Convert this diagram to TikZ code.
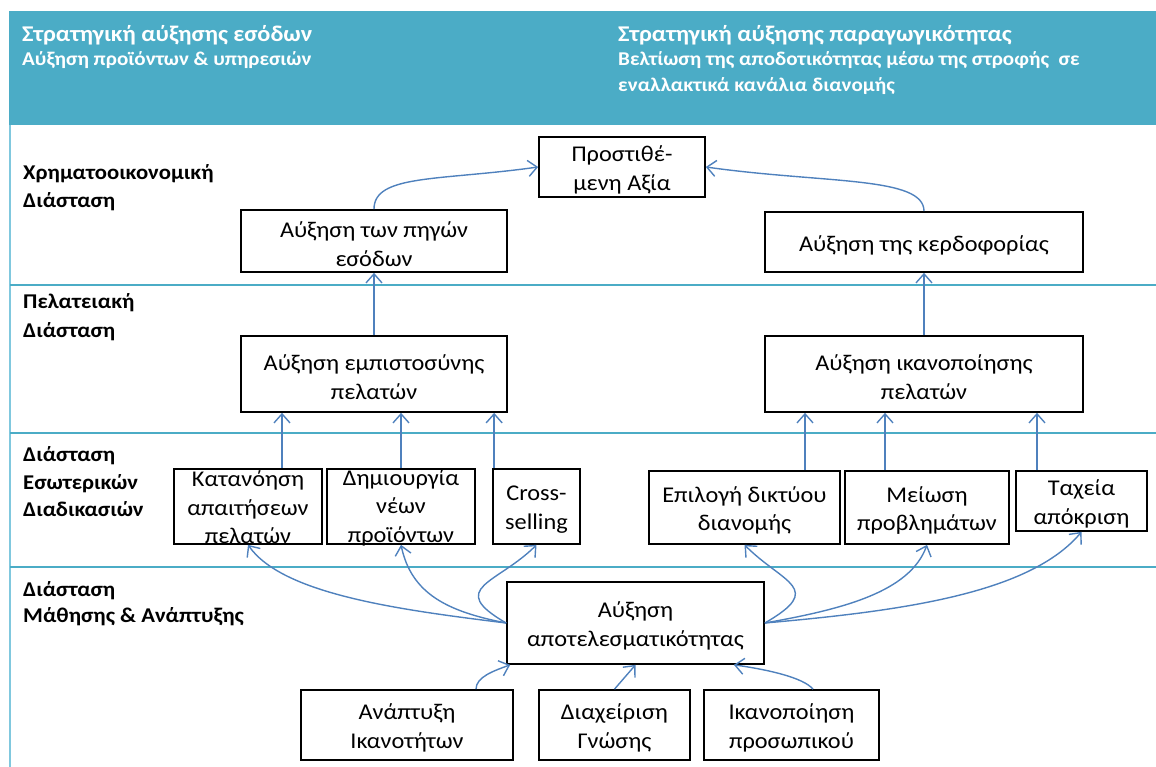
\documentclass[tikz,border=0pt]{standalone}
\usepackage{fontspec}
\setmainfont{Carlito}[FakeStretch=1.08]
\usetikzlibrary{arrows.meta}
\definecolor{band}{RGB}{75,172,198}
\definecolor{edgeline}{RGB}{128,200,222}
\definecolor{conn}{RGB}{79,129,189}
% a framed box with its caption set on top of it, so that the caption may overflow the frame;
% the optional argument moves the caption up or down inside the frame
\newcommand\kpibox[6][-3pt]{%
  \node[frame,minimum width=#4,minimum height=#5] (#2) at (#3) {};
  \node[boxtext] (#2-t) at ([yshift=#1]#2.center) {#6};}
\begin{document}
\begin{tikzpicture}[x=1pt,y=1pt,
  frame/.style={draw=black,line width=1.7pt,fill=white,inner sep=0pt},
  boxtext/.style={inner sep=0pt,align=center,font=\fontsize{22.5}{28.5}\selectfont},
  link/.style={draw=conn,line width=1.4pt,
    -{Straight Barb[length=9pt,width=16pt,line width=1.4pt]}},
  head/.style={anchor=base west,inner sep=0pt,text=white,font=\bfseries\fontsize{22.5}{27}\selectfont},
  subhead/.style={anchor=base west,inner sep=0pt,text=white,font=\bfseries\fontsize{19.5}{23}\selectfont},
  dim/.style={anchor=base west,inner sep=0pt,font=\bfseries\fontsize{21}{25}\selectfont},
  sep/.style={draw=band,line width=1.3pt}]
\useasboundingbox (0,0) rectangle (1156,767);

% header band
\fill[band] (9,642) rectangle (1156,756);
\node[head] (h1) at (22,725) {Στρατηγική αύξησης εσόδων};
\node[subhead] (h1b) at (22,701) {Αύξηση προϊόντων \& υπηρεσιών};
\node[head] (h2) at (618,725) {Στρατηγική αύξησης παραγωγικότητας};
\node[subhead] (h2b) at (618,701) {Βελτίωση της αποδοτικότητας μέσω της στροφής\ \ σε};
\node[subhead] (h2c) at (618,675) {εναλλακτικά κανάλια διανομής};

% frame and row separators
\draw[draw=edgeline,line width=2pt] (10,642) -- (10,0);
\draw[sep] (10,482) -- (1156,482);
\draw[sep] (10,334) -- (1156,334);
\draw[sep] (10,200) -- (1156,200);

% dimension labels
\node[dim] (l1a) at (23,587) {Χρηματοοικονομική};
\node[dim] (l1b) at (23,559) {Διάσταση};
\node[dim] (l2a) at (23,458) {Πελατειακή};
\node[dim] (l2b) at (23,429) {Διάσταση};
\node[dim] (l3a) at (23,305) {Διάσταση};
\node[dim] (l3b) at (23,277) {Εσωτερικών};
\node[dim] (l3c) at (23,250) {Διαδικασιών};
\node[dim] (l4a) at (23,170) {Διάσταση};
\node[dim] (l4b) at (23,144) {Μάθησης \& Ανάπτυξης};

% boxes
\kpibox{va}{622,600}{166pt}{60pt}{Προστιθέ-\\μενη Αξία}
\kpibox{rev}{374,526}{266pt}{62pt}{Αύξηση των πηγών\\εσόδων}
\kpibox{prof}{924,525}{318pt}{60pt}{Αύξηση της κερδοφορίας}
\kpibox{trust}{374,393}{266pt}{76pt}{Αύξηση εμπιστοσύνης\\πελατών}
\kpibox{sat}{924,393}{318pt}{76pt}{Αύξηση ικανοποίησης\\πελατών}
\kpibox[-1pt]{und}{248,260.5}{148pt}{75pt}{Κατανόηση\\απαιτήσεων\\πελατών}
\kpibox[-1pt]{newp}{401,260.5}{148pt}{75pt}{Δημιουργία\\νέων\\προϊόντων}
\kpibox{cross}{536.5,260.5}{87pt}{75pt}{Cross-\\selling}
\kpibox{dist}{744.5,259.5}{191pt}{73pt}{Επιλογή δικτύου\\διανομής}
\kpibox{probs}{927,259.5}{164pt}{73pt}{Μείωση\\προβλημάτων}
\kpibox{fast}{1081.5,266}{131pt}{60pt}{Ταχεία\\απόκριση}
\kpibox{eff}{635.5,144}{257pt}{82pt}{Αύξηση\\αποτελεσματικότητας}
\kpibox{skills}{407,42}{212pt}{70pt}{Ανάπτυξη\\Ικανοτήτων}
\kpibox{know}{614.5,42}{151pt}{70pt}{Διαχείριση\\Γνώσης}
\kpibox{staff}{791.5,42}{175pt}{70pt}{Ικανοποίηση\\προσωπικού}

% financial level
\draw[link] (rev.north) to[out=90,in=188,out distance=35pt,in distance=100pt] (va.west);
\draw[link] (prof.north) to[out=90,in=-8,out distance=35pt,in distance=120pt] (va.east);

% customer level
\draw[link] (trust.north) -- (rev.south);
\draw[link] (sat.north) -- (prof.south);

% internal processes
\coordinate (u1) at ([xshift=34pt]und.north);
\draw[link] (u1) -- (u1 |- trust.south);
\draw[link] (newp.north) -- (newp.north |- trust.south);
\coordinate (c1) at ([xshift=2pt]cross.north west);
\draw[link] (c1) -- (c1 |- trust.south);
\coordinate (d1) at ([xshift=60.5pt]dist.north);
\draw[link] (d1) -- (d1 |- sat.south);
\coordinate (p1) at ([xshift=-42pt]probs.north);
\draw[link] (p1) -- (p1 |- sat.south);
\coordinate (f1) at ([xshift=-44.5pt]fast.north);
\draw[link] (f1) -- (f1 |- sat.south);

% learning and growth
\draw[link] (eff.west) to[out=173,in=-55,out distance=110pt,in distance=60pt] (und.south);
\draw[link] (eff.west) to[out=169,in=-78,out distance=60pt,in distance=50pt] (newp.south);
\draw[link] (eff.west) to[out=150,in=-135,out distance=70pt,in distance=55pt] (cross.south);
\draw[link] (eff.east) to[out=30,in=-45,out distance=70pt,in distance=55pt] (dist.south);
\draw[link] (eff.east) to[out=10,in=-110,out distance=80pt,in distance=50pt] (probs.south);
\draw[link] (eff.east) to[out=5,in=-130,out distance=140pt,in distance=80pt] (fast.south);

\coordinate (s1) at ([xshift=69pt]skills.north);
\coordinate (e1) at ([xshift=4pt]eff.south west);
\draw[link] (s1) to[out=90,in=200,out distance=12pt,in distance=18pt] (e1);
\draw[link] (know.north) -- (eff.south);
\coordinate (k1) at ([xshift=21.5pt]staff.north);
\coordinate (e2) at ([xshift=-31pt]eff.south east);
\draw[link] (k1) to[out=130,in=-8,out distance=15pt,in distance=35pt] (e2);
\end{tikzpicture}
\end{document}
